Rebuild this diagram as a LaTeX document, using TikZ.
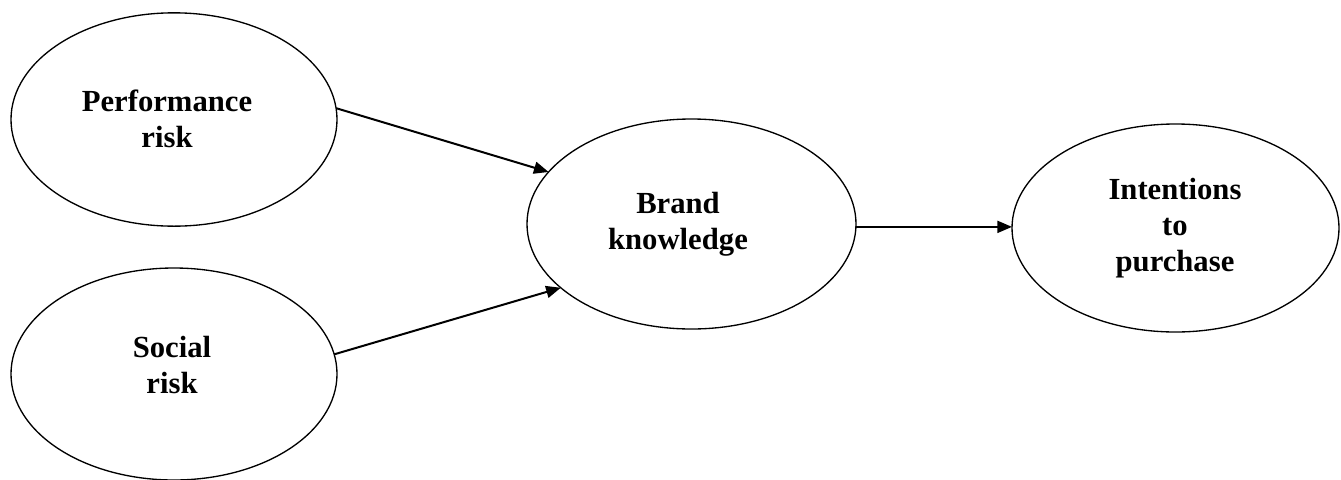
\documentclass[tikz,border=0pt]{standalone}
\usepackage{fontspec}
\setmainfont{Liberation Serif}
\usetikzlibrary{shapes.geometric,arrows.meta}
\begin{document}
\begin{tikzpicture}[x=0.75pt,y=-0.75pt,
  oval/.style={draw=black,line width=1pt,ellipse,inner sep=0pt,outer sep=0pt},
  lbl/.style={align=center,font=\fontsize{23}{27}\selectfont\bfseries,inner sep=0pt},
  conn/.style={line width=1.5pt,-{Triangle[length=11pt,width=9pt]}}]
\useasboundingbox (0,0) rectangle (1341,479);
\node[oval,minimum width=244.5pt,minimum height=160pt] (perf) at (174,119.5) {};
\node[oval,minimum width=244.5pt,minimum height=159pt] (soc) at (174,374) {};
\node[oval,minimum width=246.75pt,minimum height=157.5pt] (brand) at (691.5,224) {};
\node[oval,minimum width=245.25pt,minimum height=156pt] (intent) at (1175.5,228) {};
\node[lbl] (tperf) at (167,119) {Performance\\risk};
\node[lbl] (tsoc) at (172,365) {Social\\risk};
\node[lbl] (tbrand) at (678,224) {Brand\\knowledge};
\node[lbl] (tintent) at (1175,228) {Intentions\\to\\purchase};
\draw[conn] (perf.4) -- (brand.160);
\draw[conn] (soc.7) -- (brand.206);
\draw[conn] (brand.-1) -- (brand.-1 -| intent.west);
\end{tikzpicture}
\end{document}
